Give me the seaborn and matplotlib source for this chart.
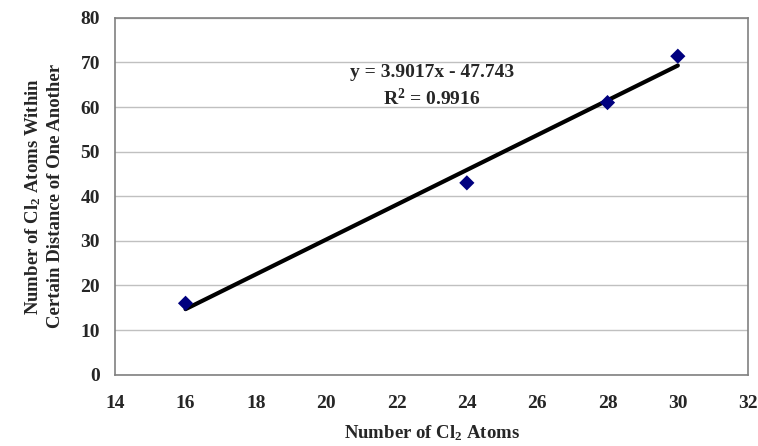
import pandas as pd
import matplotlib
matplotlib.use("Agg")
import matplotlib.pyplot as plt
import seaborn as sns

# data
cl2_atoms = [16, 24, 28, 30]
within_distance = [16, 43, 61, 71.4]
fit_text = "y = 3.9017x - 47.743\nR$^2$ = 0.9916"

df = pd.DataFrame({"atoms": cl2_atoms, "within": within_distance})

sns.set_theme(style="white")
plt.rcParams["font.family"] = ["Liberation Serif", "DejaVu Serif"]
plt.rcParams["font.weight"] = "bold"
plt.rcParams["mathtext.fontset"] = "custom"
plt.rcParams["mathtext.rm"] = "Liberation Serif:bold"
plt.rcParams["mathtext.it"] = "Liberation Serif:bold"
plt.rcParams["mathtext.bf"] = "Liberation Serif:bold"

fig, ax = plt.subplots(figsize=(7.58, 4.46), dpi=100)
fig.subplots_adjust(left=0.152, right=0.987, top=0.96, bottom=0.16)

sns.regplot(data=df, x="atoms", y="within", ci=None, truncate=True, ax=ax,
            marker="D",
            scatter_kws={"color": "#00007f", "s": 60, "alpha": 1, "zorder": 3,
                         "edgecolor": "none"},
            line_kws={"color": "black", "lw": 3, "zorder": 2})

ax.set_xlim(14, 32)
ax.set_ylim(0, 80)
ax.set_xticks(range(14, 33, 2))
ax.set_yticks(range(0, 81, 10))
ax.yaxis.grid(True, color="#c0c0c0", lw=1)
ax.set_axisbelow(True)
for s in ax.spines.values():
    s.set_color("#808080")
    s.set_linewidth(1.2)
ax.tick_params(axis="both", direction="out", length=5, width=1, color="#808080",
               labelsize=14, pad=6)
ax.tick_params(axis="x", pad=10)
for lab in ax.get_xticklabels() + ax.get_yticklabels():
    lab.set_fontweight("bold")

ax.set_xlabel("Number of Cl$_2$ Atoms", fontsize=13.5, fontweight="bold", labelpad=8)
ax.set_ylabel("Number of Cl$_2$ Atoms Within\nCertain Distance of One Another",
              fontsize=13.5, fontweight="bold", labelpad=12, linespacing=1.25)

ax.text(23.0, 64.6, fit_text, ha="center", va="center", fontsize=14,
        fontweight="bold", linespacing=1.45)

plt.savefig("out.png", dpi=100)
